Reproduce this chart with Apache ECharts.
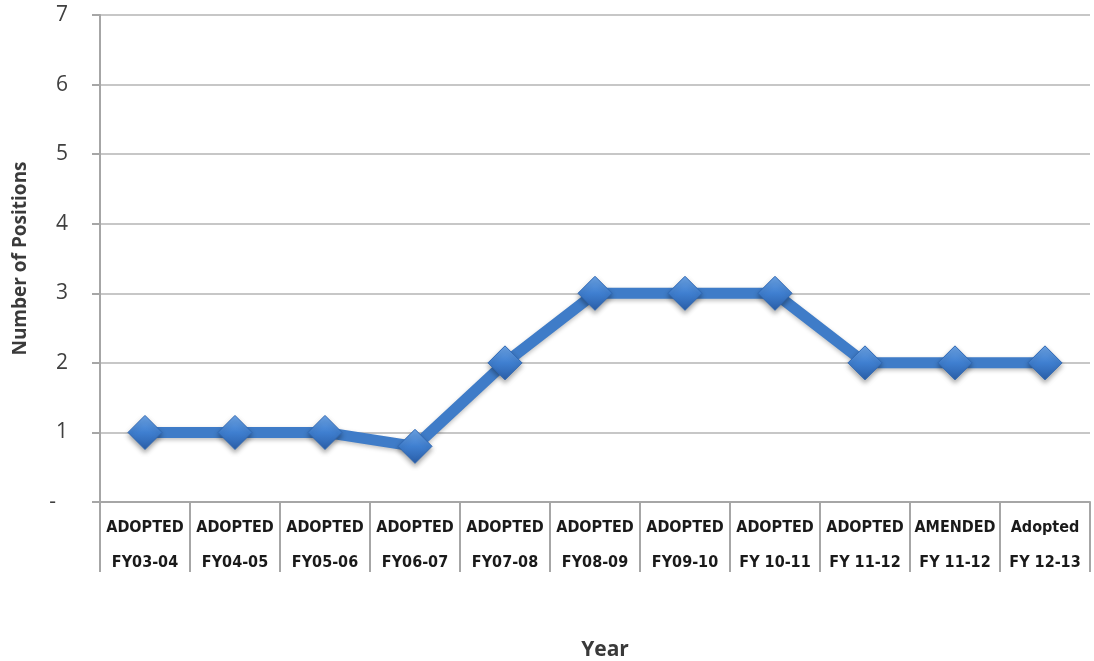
<!DOCTYPE html>
<html>
<head>
<meta charset="utf-8">
<script src="https://cdn.jsdelivr.net/npm/echarts@6/dist/echarts.min.js"></script>
<style>
  html, body { margin: 0; padding: 0; background: #ffffff; }
  #chart { width: 1094px; height: 661px; }
</style>
</head>
<body>
<div id="chart"></div>
<script>
// Budget stage and fiscal year for each point
const stages = ['ADOPTED', 'ADOPTED', 'ADOPTED', 'ADOPTED', 'ADOPTED', 'ADOPTED',
                'ADOPTED', 'ADOPTED', 'ADOPTED', 'AMENDED', 'Adopted'];
const fiscalYears = ['FY03-04', 'FY04-05', 'FY05-06', 'FY06-07', 'FY07-08', 'FY08-09',
                     'FY09-10', 'FY 10-11', 'FY 11-12', 'FY 11-12', 'FY 12-13'];
// Number of positions per year
const positions = [1, 1, 1, 0.8, 2, 3, 3, 3, 2, 2, 2];
// Value axis ticks
const yTicks = [0, 1, 2, 3, 4, 5, 6, 7];

const categories = stages.map((s, i) => s + '\n' + fiscalYears[i]);

const chart = echarts.init(document.getElementById('chart'));

chart.setOption({
  animation: false,
  backgroundColor: '#ffffff',
  grid: {
    left: 100, right: 4, top: 15, bottom: 159,
    containLabel: false, outerBoundsMode: 'none'
  },
  xAxis: {
    type: 'category',
    data: categories,
    boundaryGap: true,
    name: 'Year',
    nameLocation: 'middle',
    nameGap: 138,
    nameTextStyle: {
      fontFamily: 'Open Sans', fontWeight: 'bold', fontSize: 21, color: '#3a3a3a',
      padding: [0, 0, 0, 20]
    },
    axisLine: { show: true, lineStyle: { color: '#a6a6a6', width: 2 } },
    axisTick: {
      show: true, interval: 0, length: 70,
      lineStyle: { color: '#a6a6a6', width: 2 }
    },
    axisLabel: {
      interval: 0,
      margin: 8,
      fontFamily: 'DejaVu Sans Condensed, Liberation Sans, Arial',
      fontWeight: 'bold',
      fontSize: 16,
      lineHeight: 35,
      color: '#1a1a1a'
    },
    splitLine: { show: false }
  },
  yAxis: {
    type: 'value',
    min: yTicks[0],
    max: yTicks[yTicks.length - 1],
    interval: 1,
    name: 'Number of Positions',
    nameLocation: 'middle',
    nameRotate: 90,
    nameGap: 70,
    nameTextStyle: {
      fontFamily: 'Open Sans', fontWeight: 'bold', fontSize: 19, color: '#3a3a3a'
    },
    axisLine: { show: true, lineStyle: { color: '#a6a6a6', width: 2 } },
    axisTick: { show: true, length: 8, lineStyle: { color: '#a6a6a6', width: 2 } },
    axisLabel: {
      margin: 32,
      fontFamily: 'Open Sans',
      fontSize: 21,
      color: '#404040',
      formatter: v => v === 0 ? '{dash|-}' : String(v),
      rich: { dash: { fontSize: 21, color: '#404040', padding: [0, 12, 0, 0] } }
    },
    splitLine: { show: true, lineStyle: { color: '#b4b4b4', width: 1.5 } }
  },
  series: [{
    type: 'line',
    data: positions,
    symbol: 'diamond',
    symbolSize: 34,
    lineStyle: {
      color: '#3f7cc8', width: 11,
      shadowColor: 'rgba(0,0,0,0.25)', shadowBlur: 4, shadowOffsetY: 2
    },
    itemStyle: {
      color: new echarts.graphic.LinearGradient(0, 0, 0, 1, [
        { offset: 0, color: '#6ea6e8' },
        { offset: 0.5, color: '#3f7fd0' },
        { offset: 1, color: '#2a5ea8' }
      ]),
      borderColor: '#2f68b4',
      borderWidth: 1,
      shadowColor: 'rgba(0,0,0,0.35)', shadowBlur: 5, shadowOffsetY: 3
    },
    z: 3
  }]
});
</script>
</body>
</html>
